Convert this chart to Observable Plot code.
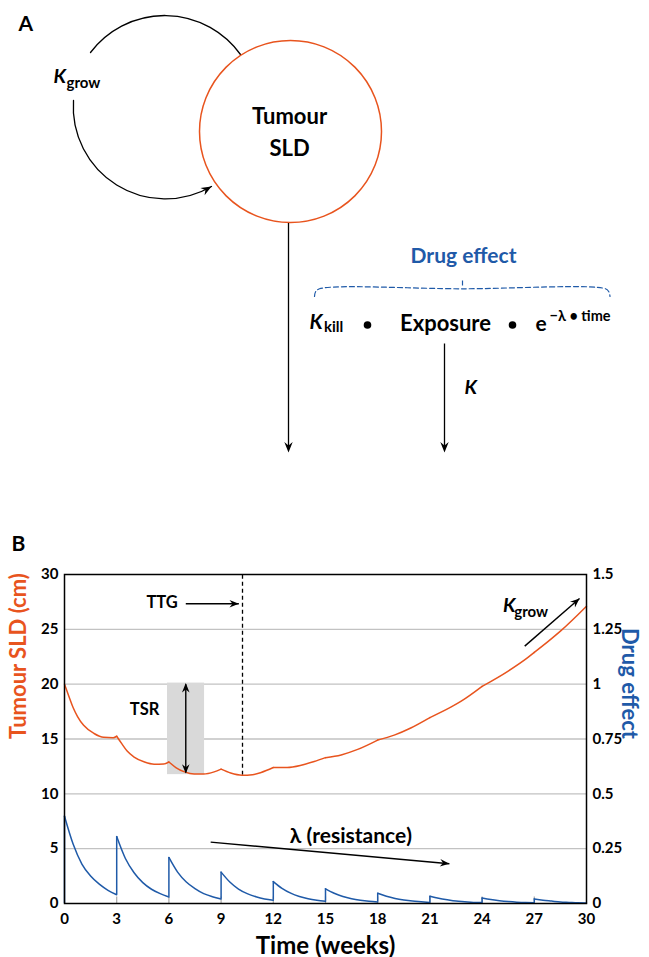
<!DOCTYPE html>
<html><head><meta charset="utf-8">
<script src="https://cdn.jsdelivr.net/npm/d3@7"></script>
<script src="https://cdn.jsdelivr.net/npm/@observablehq/plot@0.6"></script>
<style>
html,body{margin:0;padding:0;background:#fff;}
#chart svg{display:block;}
#chart text{font-weight:700;}
</style></head><body><div id="chart"></div>
<script>
// ---------------- Data (panel B) ----------------
const weekTicks = [0, 3, 6, 9, 12, 15, 18, 21, 24, 27, 30];
const sldTicks = [0, 5, 10, 15, 20, 25, 30];
const drugTicks = [0, 0.25, 0.5, 0.75, 1, 1.25, 1.5];
const drugTickLabels = ["0", "0.25", "0.5", "0.75", "1", "1.25", "1.5"];
const doseWeeks = [0, 3, 6, 9, 12, 15, 18, 21, 24, 27];
const cycleOffsets = [0, 0.5, 1, 1.5, 2, 2.5, 3];
// drug effect (right axis units), one row per dosing cycle, read at cycleOffsets
const drugEffectByCycle = [
  [0.398, 0.27, 0.18, 0.125, 0.088, 0.06, 0.04],
  [0.305, 0.205, 0.14, 0.095, 0.065, 0.045, 0.03],
  [0.21, 0.143, 0.098, 0.068, 0.045, 0.031, 0.021],
  [0.143, 0.098, 0.066, 0.045, 0.031, 0.021, 0.015],
  [0.1, 0.069, 0.047, 0.032, 0.022, 0.015, 0.01],
  [0.067, 0.047, 0.032, 0.022, 0.015, 0.01, 0.007],
  [0.047, 0.033, 0.023, 0.016, 0.011, 0.008, 0.005],
  [0.033, 0.024, 0.017, 0.011, 0.008, 0.005, 0.004],
  [0.025, 0.018, 0.013, 0.009, 0.006, 0.004, 0.003],
  [0.021, 0.015, 0.011, 0.007, 0.005, 0.003, 0.002]
];
// tumour SLD (cm)
const sldWeeks = [0, 0.25, 0.5, 0.75, 1.1, 1.7, 2.25, 2.8, 3,
  3.3, 3.6, 4.0, 4.6, 5.15, 5.7, 6,
  6.4, 6.9, 7.45, 8.0, 8.6, 9,
  9.55, 10.2, 10.8, 11.3, 12,
  12.8, 13.6, 14.35, 15,
  15.9, 16.85, 18,
  18.95, 19.9, 21,
  22.2, 22.8, 24,
  25.5, 26.6, 27,
  27.8, 28.55, 30];
const sldValues = [20.0, 18.9, 17.85, 17.05, 16.25, 15.5, 15.15, 15.12, 15.25,
  14.55, 13.9, 13.35, 12.9, 12.7, 12.72, 12.9,
  12.4, 12.0, 11.8, 11.8, 12.0, 12.25,
  11.9, 11.7, 11.75, 11.95, 12.4,
  12.4, 12.6, 12.95, 13.3,
  13.55, 14.05, 14.9,
  15.35, 16.0, 16.95,
  17.9, 18.45, 19.8,
  21.2, 22.4, 22.9,
  23.9, 24.9, 27.1];
const drugToSld = 20; // 1.5 drug effect <-> 30 cm

// ---------------- Styles / layout ----------------
const sldColor = "#e8541e";
const drugColor = "#1f5aa8";
const font = "Lato, 'DejaVu Sans', sans-serif";
const W = 649, HA = 560, HB = 397;
const mB = {top: 14, right: 63, bottom: 54, left: 64};
const xPx = t => mB.left + t / 30 * (W - mB.left - mB.right);
const yPx = v => (HB - mB.bottom) - v / 30 * (HB - mB.top - mB.bottom);
const heading = (x1, y1, x2, y2) => Math.atan2(x2 - x1, -(y2 - y1)) * 180 / Math.PI;

// filled "stealth" arrowhead symbol, tip at the point, pointing up when rotate = 0
const stealth = {
  draw(ctx, size) {
    const r = Math.sqrt(size / Math.PI);
    const L = 2.6 * r, w = 1.05 * r;
    ctx.moveTo(0, 0);
    ctx.lineTo(-w, L);
    ctx.lineTo(0, 0.68 * L);
    ctx.lineTo(w, L);
    ctx.closePath();
  }
};

// ---------------- Panel A (schematic) ----------------
const headsA = [
  {x: 211, y: 186, rot: 60},
  {x: 288, y: 452, rot: 180},
  {x: 444, y: 452, rot: 180}
];
const bracePts = [
  {x: 314, y: 296}, {x: 315, y: 291.5}, {x: 319, y: 288.3}, {x: 462, y: 288.3},
  {x: 605, y: 288.3}, {x: 608.5, y: 291.5}, {x: 609.5, y: 296}
];
const panelA = Plot.plot({
  width: W, height: HA, margin: 0,
  x: {domain: [0, W], range: [0, W]},
  y: {domain: [0, HA], range: [0, HA]},
  axis: null,
  style: {fontFamily: font, background: "white"},
  marks: [
    Plot.text(["A"], {x: 18, y: 30, text: d => d, textAnchor: "start", lineAnchor: "bottom", fontSize: 21}),
    Plot.text(["B"], {x: 11, y: 550, text: d => d, textAnchor: "start", lineAnchor: "bottom", fontSize: 21}),
    // K_grow loop
    Plot.arrow([{x1: 90, y1: 52, x2: 240, y2: 54}], {x1: "x1", y1: "y1", x2: "x2", y2: "y2", bend: 53.7, headLength: 0, stroke: "black", strokeWidth: 1.3}),
    Plot.arrow([{x1: 73, y1: 100, x2: 211, y2: 186}], {x1: "x1", y1: "y1", x2: "x2", y2: "y2", bend: -62, headLength: 0, stroke: "black", strokeWidth: 1.3}),
    Plot.text(["K"], {x: 53, y: 82, text: d => d, textAnchor: "start", lineAnchor: "bottom", fontSize: 19.5, fontStyle: "italic"}),
    Plot.text(["grow"], {x: 66, y: 87, text: d => d, textAnchor: "start", lineAnchor: "bottom", fontSize: 15}),
    // tumour node
    Plot.dot([{x: 290, y: 131}], {x: "x", y: "y", r: 91, stroke: sldColor, strokeWidth: 1.5, fill: "white"}),
    Plot.text(["Tumour"], {x: 289, y: 123, text: d => d, lineAnchor: "bottom", fontSize: 22}),
    Plot.text(["SLD"], {x: 289, y: 155, text: d => d, lineAnchor: "bottom", fontSize: 22}),
    // vertical arrows
    Plot.link([{x1: 288, y1: 222.5, x2: 288, y2: 446}, {x1: 444, y1: 343, x2: 444, y2: 446}], {x1: "x1", y1: "y1", x2: "x2", y2: "y2", stroke: "black", strokeWidth: 1.3}),
    Plot.dot(headsA, {x: "x", y: "y", rotate: "rot", symbol: stealth, r: 4, fill: "black", stroke: "none"}),
    // drug effect
    Plot.text(["Drug effect"], {x: 463, y: 262, text: d => d, lineAnchor: "bottom", fontSize: 21, fill: drugColor}),
    Plot.line(bracePts, {x: "x", y: "y", curve: "catmull-rom", stroke: drugColor, strokeWidth: 1.2, strokeDasharray: "5,3"}),
    Plot.link([{x1: 462, y1: 280, x2: 462, y2: 285}], {x1: "x1", y1: "y1", x2: "x2", y2: "y2", stroke: drugColor, strokeWidth: 1.2}),
    Plot.text(["K"], {x: 309, y: 328, text: d => d, textAnchor: "start", lineAnchor: "bottom", fontSize: 20.5, fontStyle: "italic"}),
    Plot.text(["kill"], {x: 323.5, y: 331, text: d => d, textAnchor: "start", lineAnchor: "bottom", fontSize: 15}),
    Plot.dot([{x: 367, y: 324.5}, {x: 512, y: 324.5}], {x: "x", y: "y", r: 3.8, fill: "black", stroke: "none"}),
    Plot.text(["Exposure"], {x: 445, y: 330, text: d => d, lineAnchor: "bottom", fontSize: 22}),
    Plot.text(["e"], {x: 535, y: 330, text: d => d, textAnchor: "start", lineAnchor: "bottom", fontSize: 21}),
    Plot.text(["\u2212\u03bb \u2022 time"], {x: 549, y: 320, text: d => d, textAnchor: "start", lineAnchor: "bottom", fontSize: 14.5}),
    Plot.text(["K"], {x: 464, y: 393, text: d => d, textAnchor: "start", lineAnchor: "bottom", fontSize: 19.5, fontStyle: "italic"})
  ]
});

// ---------------- Panel B (chart) ----------------
const sldRows = [];
doseWeeks.forEach((d, k) => {
  sldWeeks.forEach((t, i) => {
    if (t >= d && t <= d + 3) sldRows.push({seg: k, t, v: sldValues[i]});
  });
});
const drugRows = [];
doseWeeks.forEach((d, k) => {
  cycleOffsets.forEach((o, j) => drugRows.push({cycle: k, t: d + o, e: drugEffectByCycle[k][j]}));
});
const jumps = doseWeeks.map((d, k) => ({
  t: d,
  from: k === 0 ? 0 : drugEffectByCycle[k - 1][cycleOffsets.length - 1],
  to: drugEffectByCycle[k][0]
}));

// annotation anchors (data coordinates)
const ttg = {week: 10.23, low: 11.7};
const tsr = {x1: 5.92, x2: 8.05, y1: 11.75, y2: 20.1, xa: 6.97};
const arrowsB = [
  {x1: 6.97, y1: 27.33, x2: 10.02, y2: 27.33},   // TTG
  {x1: 26.45, y1: 23.47, x2: 29.6, y2: 27.82},   // K grow
  {x1: 8.4, y1: 5.6, x2: 22.12, y2: 3.63}        // lambda
];
const headsB = [
  ...arrowsB.map(a => ({x: a.x2, y: a.y2, rot: heading(xPx(a.x1), yPx(a.y1), xPx(a.x2), yPx(a.y2))})),
  {x: tsr.xa, y: 20.1, rot: 0},
  {x: tsr.xa, y: 11.85, rot: 180}
];
const drugLabelOf = new Map(drugTicks.map((v, i) => [v * drugToSld, drugTickLabels[i]]));

const panelB = Plot.plot({
  width: W, height: HB,
  marginTop: mB.top, marginRight: mB.right, marginBottom: mB.bottom, marginLeft: mB.left,
  x: {domain: [0, 30]},
  y: {domain: [0, 30]},
  style: {fontFamily: font, background: "white", overflow: "visible"},
  marks: [
    Plot.ruleY(sldTicks.filter(v => v > 0 && v < 30), {stroke: "#c2c2c2", strokeWidth: 1.4}),
    Plot.rect([tsr], {x1: "x1", x2: "x2", y1: "y1", y2: "y2", fill: "#d9d9d9"}),
    Plot.ruleX(weekTicks.filter(t => t > 0 && t < 30), {y1: 0, y2: 0.6, stroke: "#a8a8a8", strokeWidth: 1.2}),
    Plot.ruleX([ttg], {x: "week", y1: "low", y2: 30, stroke: "black", strokeWidth: 1.3, strokeDasharray: "4,3"}),
    Plot.line(sldRows, {x: "t", y: "v", z: "seg", curve: "monotone-x", stroke: sldColor, strokeWidth: 1.5}),
    Plot.line(drugRows, {x: "t", y: d => d.e * drugToSld, z: "cycle", curve: "monotone-x", stroke: drugColor, strokeWidth: 1.5}),
    Plot.ruleX(jumps, {x: "t", y1: d => d.from * drugToSld, y2: d => d.to * drugToSld, stroke: drugColor, strokeWidth: 1.5}),
    // annotations
    Plot.link(arrowsB, {x1: "x1", y1: "y1", x2: "x2", y2: "y2", stroke: "black", strokeWidth: 1.4}),
    Plot.link([tsr], {x1: "xa", x2: "xa", y1: 20.0, y2: 11.95, stroke: "black", strokeWidth: 1.4}),
    Plot.dot(headsB, {x: "x", y: "y", rotate: "rot", symbol: stealth, r: 3.6, fill: "black", stroke: "none"}),
    Plot.text(["TTG"], {x: 5.61, y: 26.97, text: d => d, lineAnchor: "bottom", fontSize: 16.5}),
    Plot.text(["TSR"], {x: 4.6, y: 17.15, text: d => d, lineAnchor: "bottom", fontSize: 16.5}),
    Plot.text(["K"], {x: 25.2, y: 26.57, text: d => d, textAnchor: "start", lineAnchor: "bottom", fontSize: 19.5, fontStyle: "italic"}),
    Plot.text(["grow"], {x: 25.85, y: 26.1, text: d => d, textAnchor: "start", lineAnchor: "bottom", fontSize: 15}),
    Plot.text(["\u03bb (resistance)"], {x: 16.46, y: 5.54, text: d => d, lineAnchor: "bottom", fontSize: 21}),
    Plot.frame({stroke: "black", strokeWidth: 1.5}),
    // axes
    Plot.axisX(weekTicks, {tickSize: 0, tickPadding: 10, fontSize: 15, label: null}),
    Plot.axisY(sldTicks, {tickSize: 0, tickPadding: 6, fontSize: 15, label: null}),
    Plot.axisY(drugTicks.map(v => v * drugToSld), {anchor: "right", tickSize: 0, tickPadding: 6, fontSize: 15, label: null, tickFormat: d => drugLabelOf.get(d)}),
    Plot.text(["Tumour SLD (cm)"], {frameAnchor: "left", dx: -46, rotate: -90, text: d => d, fill: sldColor, fontSize: 22}),
    Plot.text(["Drug effect"], {frameAnchor: "right", dx: 43, rotate: 90, text: d => d, fill: drugColor, fontSize: 22}),
    Plot.text(["Time (weeks)"], {frameAnchor: "bottom", dy: 50, lineAnchor: "bottom", text: d => d, fontSize: 24})
  ]
});

document.getElementById("chart").append(panelA, panelB);
</script>
</body></html>
